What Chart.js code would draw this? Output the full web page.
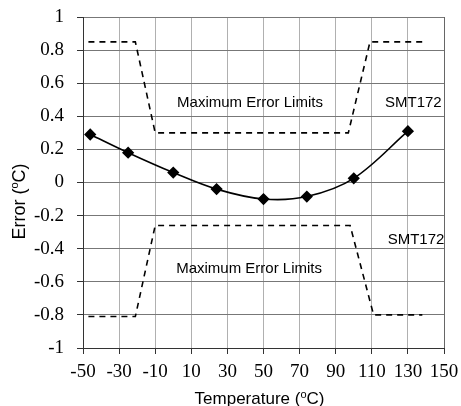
<!DOCTYPE html>
<html>
<head>
<meta charset="utf-8">
<script src="https://cdn.jsdelivr.net/npm/chart.js@4.4.1/dist/chart.umd.min.js"></script>
<style>
  html, body { margin: 0; padding: 0; background: #fff; }
  #wrap { width: 461px; height: 406px; }
</style>
</head>
<body>
<div id="wrap"><canvas id="errChart"></canvas></div>
<script>
// measured error of the sensor
const errTemps = [-46, -25, 0, 24, 50, 74, 100, 130];
const errValues = [0.29, 0.18, 0.06, -0.04, -0.10, -0.085, 0.025, 0.31];

// maximum error limits (upper and lower)
const upperTemps = [-47, -21, -10, 97, 109, 138];
const upperValues = [0.85, 0.85, 0.30, 0.30, 0.85, 0.85];
const lowerTemps = [-47, -21, -10, 98, 111, 138];
const lowerValues = [-0.81, -0.81, -0.26, -0.26, -0.80, -0.80];

// axis ticks
const xTicks = [-50, -30, -10, 10, 30, 50, 70, 90, 110, 130, 150];
const yTicks = [-1, -0.8, -0.6, -0.4, -0.2, 0, 0.2, 0.4, 0.6, 0.8, 1];

// labels
const sensorName = 'SMT172';
const limitText = 'Maximum Error Limits';
const xTitle = ['Temperature (', 'o', 'C)'];
const yTitle = ['Error (', 'o', 'C)'];

const SANS = "'Liberation Sans', Arial, sans-serif";
const SERIF = "'Liberation Serif', 'Times New Roman', serif";

function toPoints(xs, ys) {
    return xs.map((x, i) => ({ x: x, y: ys[i] }));
}

// writes a title with a raised small "o" (degree sign), centred on (cx, baseline)
function drawSupTitle(ctx, parts, cx, baseY, size, rotate) {
    ctx.save();
    ctx.translate(cx, baseY);
    if (rotate) ctx.rotate(-Math.PI / 2);
    const big = size + 'px ' + SANS;
    const small = Math.round(size * 0.62) + 'px ' + SANS;
    ctx.font = big;
    const w0 = ctx.measureText(parts[0]).width;
    const w2 = ctx.measureText(parts[2]).width;
    ctx.font = small;
    const w1 = ctx.measureText(parts[1]).width;
    let x = -(w0 + w1 + w2) / 2;
    ctx.fillStyle = '#000';
    ctx.textBaseline = 'alphabetic';
    ctx.textAlign = 'left';
    ctx.font = big;
    ctx.fillText(parts[0], x, 0);
    x += w0;
    ctx.font = small;
    ctx.fillText(parts[1], x, -size * 0.38);
    x += w1;
    ctx.font = big;
    ctx.fillText(parts[2], x, 0);
    ctx.restore();
}

const textPlugin = {
    id: 'chartTexts',
    afterDraw(chart) {
        const ctx = chart.ctx;
        const xs = chart.scales.x, ys = chart.scales.y;
        const area = chart.chartArea;

        // labels inside the plot
        ctx.save();
        ctx.font = '15px ' + SANS;
        ctx.fillStyle = '#000';
        ctx.textAlign = 'center';
        ctx.textBaseline = 'middle';
        ctx.fillText(limitText, xs.getPixelForValue(42.5), ys.getPixelForValue(0.48));
        ctx.fillText(sensorName, xs.getPixelForValue(133), ys.getPixelForValue(0.48));
        ctx.fillText(sensorName, xs.getPixelForValue(134.5), ys.getPixelForValue(-0.345));
        ctx.fillText(limitText, xs.getPixelForValue(42), ys.getPixelForValue(-0.52));
        ctx.restore();

        // axis titles
        drawSupTitle(ctx, xTitle, (area.left + area.right) / 2 - 4, 404, 17, false);
        drawSupTitle(ctx, yTitle, 25, (area.top + area.bottom) / 2 + 19, 18, true);
    }
};

const ctx = document.getElementById('errChart').getContext('2d');

new Chart(ctx, {
    type: 'scatter',
    data: {
        datasets: [
            {
                label: sensorName,
                data: toPoints(errTemps, errValues),
                showLine: true,
                tension: 0.35,
                borderColor: '#000',
                borderWidth: 1.6,
                backgroundColor: '#000',
                pointStyle: 'rectRot',
                pointRadius: 5,
                pointHoverRadius: 5
            },
            {
                label: 'Upper limit',
                data: toPoints(upperTemps, upperValues),
                showLine: true,
                borderColor: '#000',
                borderWidth: 1.6,
                borderDash: [6, 5],
                pointRadius: 0
            },
            {
                label: 'Lower limit',
                data: toPoints(lowerTemps, lowerValues),
                showLine: true,
                borderColor: '#000',
                borderWidth: 1.6,
                borderDash: [6, 5],
                pointRadius: 0
            }
        ]
    },
    options: {
        responsive: true,
        maintainAspectRatio: false,
        animation: false,
        layout: { padding: { top: 17, right: 17, left: 0, bottom: 0 } },
        plugins: {
            legend: { display: false },
            tooltip: { enabled: false }
        },
        scales: {
            x: {
                type: 'linear',
                min: -50,
                max: 150,
                afterBuildTicks: scale => { scale.ticks = xTicks.map(v => ({ value: v })); },
                afterFit: scale => {
                    scale.height = 58;
                    scale.paddingLeft = 0;
                    scale.paddingRight = 0;
                },
                ticks: {
                    color: '#000',
                    font: { family: SERIF, size: 19 },
                    padding: 7,
                    maxRotation: 0,
                    autoSkip: false
                },
                grid: {
                    color: c => (c.tick && c.tick.value === 150 ? '#666' : '#b0b0b0'),
                    tickColor: '#333',
                    tickLength: 6,
                    lineWidth: 1
                },
                border: { color: '#333', width: 1 }
            },
            y: {
                min: -1,
                max: 1,
                afterBuildTicks: scale => { scale.ticks = yTicks.map(v => ({ value: v })); },
                afterFit: scale => {
                    scale.width = 83;
                    scale.paddingTop = 0;
                    scale.paddingBottom = 0;
                },
                ticks: {
                    color: '#000',
                    font: { family: SERIF, size: 19 },
                    padding: 13,
                    autoSkip: false,
                    callback: v => String(Math.round(v * 10) / 10)
                },
                grid: {
                    color: '#777',
                    tickColor: '#333',
                    tickLength: 6,
                    lineWidth: 1
                },
                border: { color: '#333', width: 1 }
            }
        }
    },
    plugins: [textPlugin]
});
</script>
</body>
</html>
